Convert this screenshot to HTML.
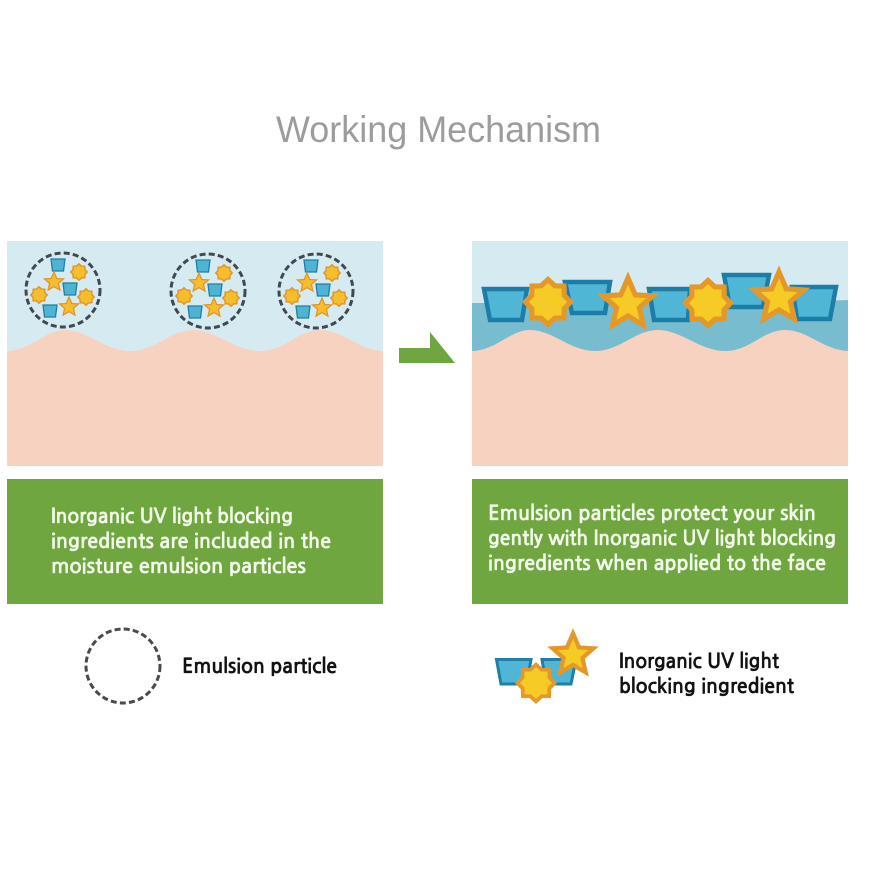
<!DOCTYPE html>
<html><head><meta charset="utf-8"><style>
html,body{margin:0;padding:0;background:#fff}
svg{display:block;filter:blur(.35px)}
text{font-family:"NanumGothic","Liberation Sans",sans-serif}
.w{fill:#f2f9ea;font-size:20px;font-weight:700;stroke:#f2f9ea;stroke-width:.35}
.k{fill:#111;font-size:20px;font-weight:700;stroke:#111;stroke-width:.35}
</style></head><body>
<svg width="870" height="870" viewBox="0 0 870 870" xmlns="http://www.w3.org/2000/svg">
<defs>
<polygon id="s5" points="0,-10 2.8,-3.5 9.5,-3.1 4.4,1.4 5.9,8.1 0,4.6 -5.9,8.1 -4.4,1.4 -9.5,-3.1 -2.8,-3.5"/>
<polygon id="s8" points="0,-10 3,-7.2 7.1,-7.1 7.2,-3 10,0 7.2,3 7.1,7.1 3,7.2 0,10 -3,7.2 -7.1,7.1 -7.2,3 -10,0 -7.2,-3 -7.1,-7.1 -3,-7.2"/>
<g id="p">
<circle r="37" fill="none" stroke="#3f4a50" stroke-width="3" stroke-dasharray="6 3.2"/>
<g fill="#4fb3d3" stroke="#1f7fa5" stroke-width="1.3">
<polygon points="-12,-31 2,-31 0.5,-19 -10.5,-19"/>
<polygon points="0,-7 14,-7 12.5,5 1.5,5"/>
<polygon points="-20,15 -6,15 -7.5,27 -18.5,27"/>
</g>
<g fill="#f6bd2c" stroke="#e0962a">
<use href="#s8" transform="translate(16,-18) scale(.82)" stroke-width="1.8"/>
<use href="#s8" transform="translate(-24,5) scale(.82)" stroke-width="1.8"/>
<use href="#s8" transform="translate(23,7) scale(.82)" stroke-width="1.8"/>
<use href="#s5" transform="translate(-9,-8) scale(1)" stroke-width="1.3"/>
<use href="#s5" transform="translate(6,17) scale(1)" stroke-width="1.3"/>
</g>
</g>
</defs>

<text x="276" y="142" textLength="325" lengthAdjust="spacingAndGlyphs" style="font-family:'Liberation Sans',sans-serif;font-size:37px;fill:#9c9c9c">Working Mechanism</text>

<!-- Left panel -->
<rect x="7" y="241" width="376" height="225" fill="#d6ebf1"/>
<path d="M7,351 C32,350 45,330 65,330 C88,330 105,351 130,351 C155,351 170,330 193,330 C216,330 235,351 260,351 C285,351 298,330 320,330 C343,330 358,350 383,351 V466 H7 Z" fill="#f8d2c1"/>
<use href="#p" x="63" y="290"/>
<use href="#p" x="208" y="291"/>
<use href="#p" x="316" y="291"/>

<!-- Arrow -->
<polygon points="399,348 430,348 430,332 455,363 399,363" fill="#6fa640"/>

<!-- Right panel -->
<rect x="472" y="241" width="376" height="225" fill="#d6ebf1"/>
<path d="M472,303 C600,303 720,305 848,300 V352 H472 Z" fill="#78bdcf"/>
<path d="M472,351 C497,350 510,330 530,330 C553,330 570,351 595,351 C620,351 635,330 658,330 C681,330 700,351 725,351 C750,351 763,330 785,330 C808,330 823,350 848,351 V466 H472 Z" fill="#f8d2c1"/>
<g fill="#4fb6d6" stroke="#1c7ea6" stroke-width="4.5" stroke-linejoin="miter">
<polygon points="565,282 610,282 605,313 572,313"/>
<polygon points="724,275 769,275 763,307 730,307"/>
<polygon points="484,289 527,289 522,320 490,320"/>
<polygon points="649,289 690,289 688,320 654,320"/>
<polygon points="792,287 836,287 830,319 797,319"/>
</g>
<g fill="#f6cb26" stroke="#e5982a" stroke-linejoin="miter">
<use href="#s8" transform="translate(548,302) scale(2.25)" stroke-width="2.3"/>
<use href="#s8" transform="translate(708,303) scale(2.25)" stroke-width="2.3"/>
<use href="#s5" transform="translate(628,304) scale(2.6)" stroke-width="2"/>
<use href="#s5" transform="translate(779,298) scale(2.6)" stroke-width="2"/>
</g>

<!-- Green boxes -->
<rect x="7" y="479" width="376" height="125" fill="#6fa640"/>
<rect x="472" y="479" width="376" height="125" fill="#6fa640"/>
<text class="w" x="51" y="523" textLength="242" lengthAdjust="spacingAndGlyphs">Inorganic UV light blocking</text>
<text class="w" x="51" y="548" textLength="280" lengthAdjust="spacingAndGlyphs">ingredients are included in the</text>
<text class="w" x="51" y="573" textLength="255" lengthAdjust="spacingAndGlyphs">moisture emulsion particles</text>
<text class="w" x="488" y="520" textLength="328" lengthAdjust="spacingAndGlyphs">Emulsion particles protect your skin</text>
<text class="w" x="488" y="545" textLength="348" lengthAdjust="spacingAndGlyphs">gently with Inorganic UV light blocking</text>
<text class="w" x="488" y="570" textLength="338" lengthAdjust="spacingAndGlyphs">ingredients when applied to the face</text>

<!-- Legend -->
<circle cx="123" cy="666" r="37" fill="none" stroke="#4a4a4a" stroke-width="3" stroke-dasharray="6 3.2"/>
<text class="k" x="182" y="673" textLength="155" lengthAdjust="spacingAndGlyphs">Emulsion particle</text>
<g fill="#4fb6d6" stroke="#1f7fa5" stroke-width="3">
<polygon points="496.5,659.5 531,659.5 527,684 501,684"/>
<polygon points="542,659.5 576,659.5 571,684 546,684"/>
</g>
<g fill="#f6cb26" stroke="#e5982a">
<use href="#s8" transform="translate(536,683) scale(1.85)" stroke-width="2"/>
<use href="#s5" transform="translate(573,655) scale(2.15)" stroke-width="2"/>
</g>
<text class="k" x="619" y="668" textLength="160" lengthAdjust="spacingAndGlyphs">Inorganic UV light</text>
<text class="k" x="619" y="693" textLength="175" lengthAdjust="spacingAndGlyphs">blocking ingredient</text>
</svg>
</body></html>
